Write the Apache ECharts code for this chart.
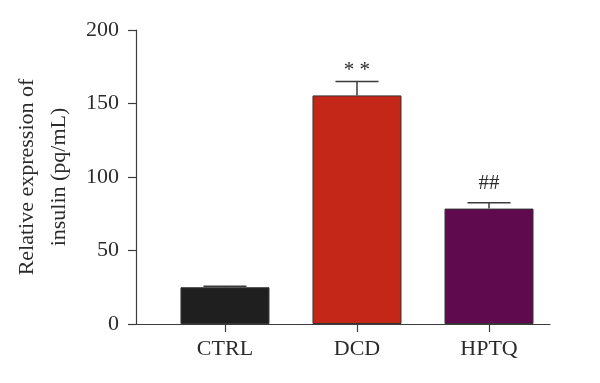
<!DOCTYPE html>
<html>
<head>
<meta charset="utf-8">
<script src="https://cdn.jsdelivr.net/npm/echarts@6/dist/echarts.min.js"></script>
<style>
html,body{margin:0;padding:0;background:#fff;}
#chart{width:600px;height:383px;}
</style>
</head>
<body>
<div id="chart"></div>
<script>
// ---- data ----
var categories = ['CTRL', 'DCD', 'HPTQ'];
var values = [25, 155.5, 78.5];
var errors = [0.6, 9.5, 4];
var significance = ['', '* *', '##'];
var yTicks = [0, 50, 100, 150, 200];

// ---- styles ----
var barColors = ['#1f1f1f', '#c42618', '#5f0a4f'];
var FONT = "'Liberation Serif', 'Times New Roman', serif";
var TEXT = '#2b2b2b';
var AXIS = '#3c3c3c';

var chart = echarts.init(document.getElementById('chart'), null, {renderer: 'canvas'});

var barData = values.map(function (v, i) {
  return {value: [i, v], itemStyle: {color: barColors[i]}};
});
var errData = values.map(function (v, i) {
  return [i, v, errors[i]];
});

var option = {
  animation: false,
  backgroundColor: '#fff',
  grid: {left: 136, right: 50, top: 30, bottom: 59, containLabel: false},
  xAxis: {
    type: 'value',
    min: -0.674,
    max: 2.462,
    splitLine: {show: false},
    axisLine: {show: true, onZero: false, lineStyle: {color: AXIS, width: 1.2}},
    axisTick: {show: true, inside: false, length: 8, customValues: [0, 1, 2], lineStyle: {color: AXIS, width: 1.2}},
    axisLabel: {
      customValues: [0, 1, 2],
      margin: 14,
      fontFamily: FONT, fontSize: 22, color: TEXT,
      formatter: function (v) { return categories[Math.round(v)]; }
    }
  },
  yAxis: {
    type: 'value',
    min: yTicks[0], max: yTicks[yTicks.length - 1], interval: 50,
    splitLine: {show: false},
    axisLine: {show: true, onZero: false, lineStyle: {color: AXIS, width: 1.2}},
    axisTick: {show: true, inside: false, length: 8, lineStyle: {color: AXIS, width: 1.2}},
    axisLabel: {margin: 17, fontFamily: FONT, fontSize: 22, color: TEXT},
    name: 'Relative expression of\ninsulin (pq/mL)',
    nameLocation: 'middle',
    nameRotate: 90,
    nameGap: 54,
    nameTextStyle: {fontFamily: FONT, fontSize: 22, color: TEXT, lineHeight: 32, align: 'center'}
  },
  series: [
    {
      type: 'bar',
      data: barData,
      barWidth: 89,
      itemStyle: {borderColor: '#333', borderWidth: 1}
    },
    {
      type: 'custom',
      data: errData,
      z: 5,
      renderItem: function (params, api) {
        var x = api.value(0), v = api.value(1), e = api.value(2);
        var base = api.coord([x, v]);
        var top = api.coord([x, v + e]);
        var half = 21.5;
        var st = {stroke: '#3a3a3a', lineWidth: 1.5};
        var children = [
          {type: 'line', shape: {x1: top[0], y1: base[1], x2: top[0], y2: top[1]}, style: st},
          {type: 'line', shape: {x1: top[0] - half, y1: top[1], x2: top[0] + half, y2: top[1]}, style: st}
        ];
        var s = significance[params.dataIndex];
        if (s) {
          var gap = s.indexOf('*') >= 0 ? 0 : 9;
          children.push({
            type: 'text',
            x: top[0], y: top[1] - gap,
            style: {text: s, align: 'center', verticalAlign: 'bottom', font: '21px ' + FONT, fill: TEXT}
          });
        }
        return {type: 'group', children: children};
      }
    }
  ]
};
chart.setOption(option);
</script>
</body>
</html>
